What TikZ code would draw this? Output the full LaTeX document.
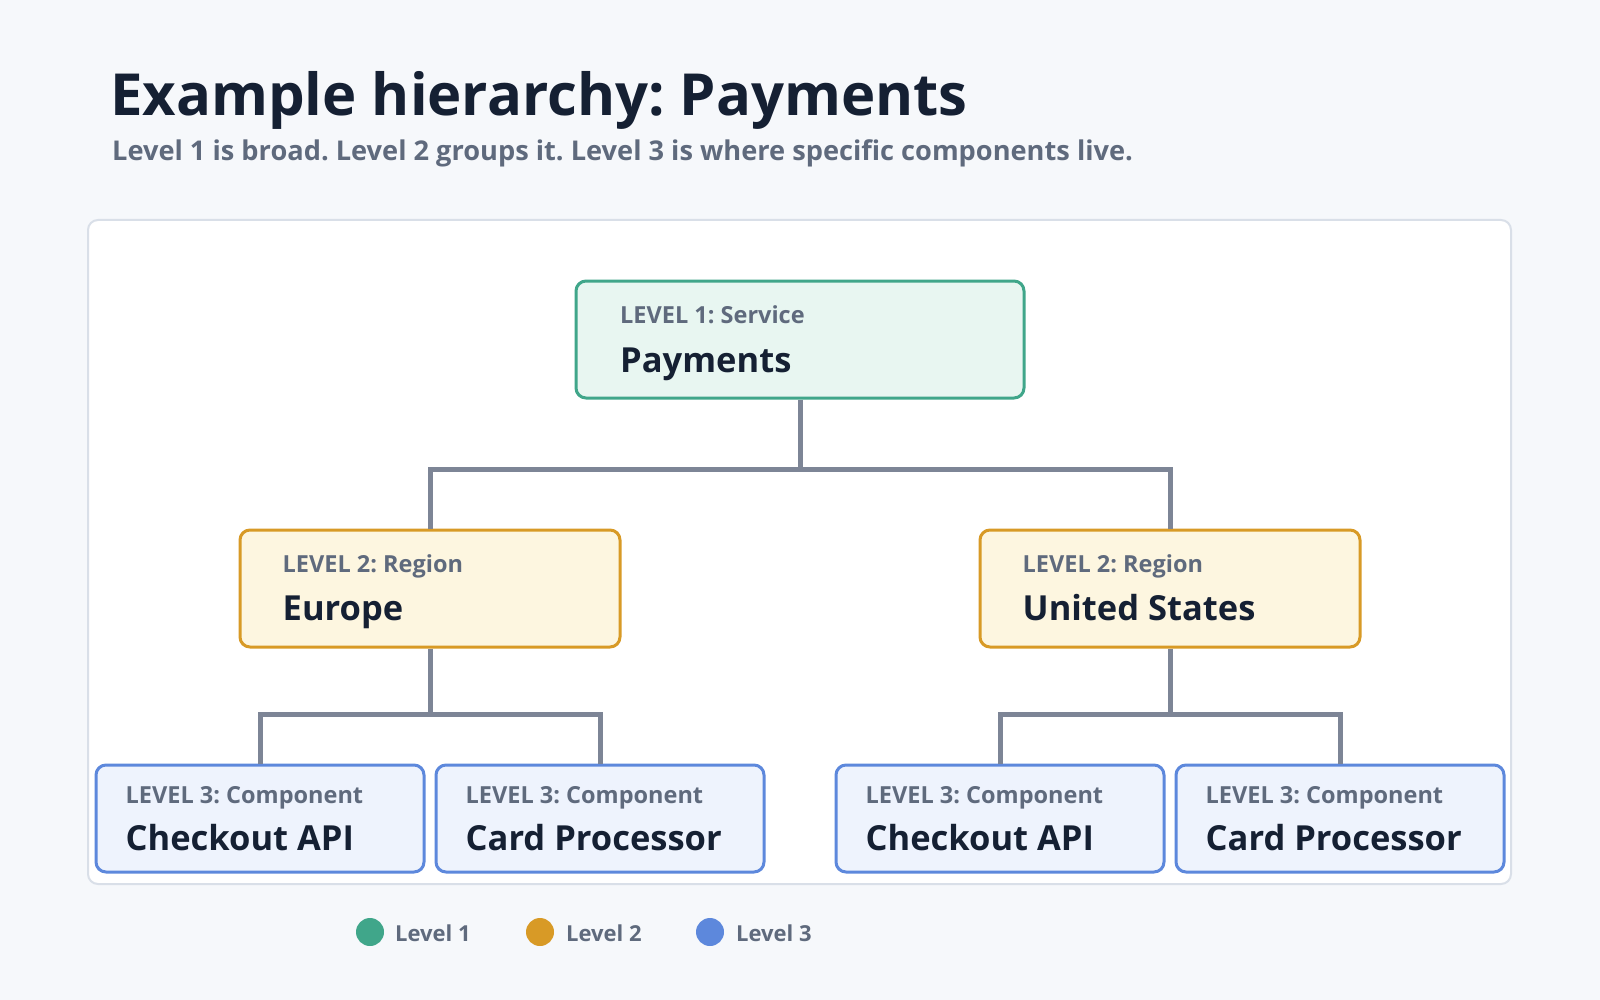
\documentclass[tikz,border=0pt]{standalone}
\usepackage{fontspec}
\setmainfont{Open Sans}
\usetikzlibrary{positioning}
\frenchspacing

\definecolor{pagebg}{HTML}{F6F8FB}
\definecolor{panelc}{HTML}{D9DFE8}
\definecolor{titlec}{HTML}{152033}
\definecolor{tagc}{HTML}{5F6A7D}
\definecolor{namec}{HTML}{152033}
\definecolor{wirec}{HTML}{7D8596}
\definecolor{lvonec}{HTML}{40A68A}
\definecolor{lvonebg}{HTML}{E8F6F1}
\definecolor{lvtwoc}{HTML}{D89A26}
\definecolor{lvtwobg}{HTML}{FDF6E0}
\definecolor{lvthreec}{HTML}{5D88DC}
\definecolor{lvthreebg}{HTML}{EEF3FD}

\begin{document}
\begin{tikzpicture}[x=1pt, y=-1pt, on grid,
    box/.style={draw, rounded corners=10pt, line width=3pt, inner sep=0pt},
    lvone/.style={box, draw=lvonec, fill=lvonebg, minimum width=448pt, minimum height=117pt},
    lvtwo/.style={box, draw=lvtwoc, fill=lvtwobg, minimum width=380pt, minimum height=117pt},
    lvthree/.style={box, draw=lvthreec, fill=lvthreebg, minimum width=328pt, minimum height=107pt},
    tagtext/.style={font=\bfseries\fontsize{23.5}{28}\selectfont, text=tagc, anchor=base west, inner sep=0pt},
    nametext/.style={font=\bfseries\fontsize{34.5}{40}\selectfont, text=namec, anchor=base west, inner sep=0pt},
    says/.style n args={5}{label={[tagtext, xshift=#1, yshift=-#2]north west:#4},
                           label={[nametext, xshift=#1, yshift=-#3]north west:#5}},
    wire/.style={draw=wirec, line width=5pt},
    dot/.style={circle, fill=#1, minimum size=28pt, inner sep=0pt},
    legtext/.style={font=\bfseries\fontsize{22}{26}\selectfont, text=tagc, anchor=base west, inner sep=0pt}]

    \fill[pagebg] (0,0) rectangle (1600,1000);
    \useasboundingbox (0,0) rectangle (1600,1000);

    % heading
    \node[font=\bfseries\fontsize{58}{68}\selectfont, text=titlec, anchor=base west, inner sep=0pt] (title) at (110,116) {Example hierarchy: Payments};
    \node[font=\bfseries\fontsize{27.2}{32}\selectfont, text=tagc, anchor=base west, inner sep=0pt] (subtitle) at (112,161) {Level 1 is broad. Level 2 groups it. Level 3 is where specific components live.};

    \draw[draw=panelc, fill=white, line width=2pt, rounded corners=10pt] (88,220) rectangle (1511,884);

    % tree
    \node[lvone, says={45.5pt}{43.5pt}{92.5pt}{LEVEL 1: Service}{Payments}] (pay) at (800,339.5) {};
    \node[lvtwo, says={44pt}{43.5pt}{91.5pt}{LEVEL 2: Region}{Europe}, below left=249pt and 370pt of pay] (eu) {};
    \node[lvtwo, says={44pt}{43.5pt}{91.5pt}{LEVEL 2: Region}{United States}, below right=249pt and 370pt of pay] (us) {};
    \node[lvthree, says={31pt}{39.5pt}{86.5pt}{LEVEL 3: Component}{Checkout API}, below left=230pt and 170pt of eu] (euapi) {};
    \node[lvthree, says={31pt}{39.5pt}{86.5pt}{LEVEL 3: Component}{Card Processor}, below right=230pt and 170pt of eu] (eucard) {};
    \node[lvthree, says={31pt}{39.5pt}{86.5pt}{LEVEL 3: Component}{Checkout API}, below left=230pt and 170pt of us] (usapi) {};
    \node[lvthree, says={31pt}{39.5pt}{86.5pt}{LEVEL 3: Component}{Card Processor}, below right=230pt and 170pt of us] (uscard) {};

    \coordinate[below=70pt of pay.south] (paymid);
    \coordinate[below=66pt of eu.south] (eumid);
    \coordinate[below=66pt of us.south] (usmid);

    \draw[wire] (pay) -- (paymid);
    \draw[wire] (eu) |- (paymid) -| (us);
    \draw[wire] (eu) -- (eumid);
    \draw[wire] (euapi) |- (eumid) -| (eucard);
    \draw[wire] (us) -- (usmid);
    \draw[wire] (usapi) |- (usmid) -| (uscard);

    % legend
    \node[dot=lvonec] (dotone) at (370,932) {};
    \node[dot=lvtwoc] (dottwo) at (540,932) {};
    \node[dot=lvthreec] (dotthree) at (710,932) {};
    \node[legtext] (legone) at (395,941) {Level 1};
    \node[legtext] (legtwo) at (566,941) {Level 2};
    \node[legtext] (legthree) at (736,941) {Level 3};
\end{tikzpicture}
\end{document}
